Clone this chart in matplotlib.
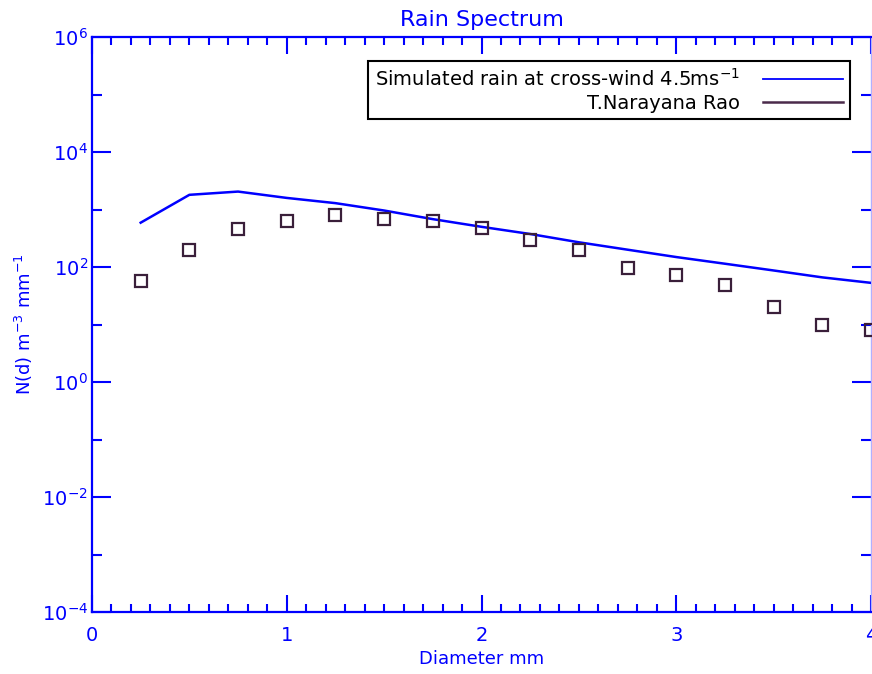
import matplotlib

matplotlib.use("Agg")
import matplotlib.pyplot as plt
from matplotlib.lines import Line2D
from matplotlib.ticker import NullFormatter


# Drop diameters (mm)
diameter = [0.25, 0.5, 0.75, 1.0, 1.25, 1.5, 1.75, 2.0, 2.25,
            2.5, 2.75, 3.0, 3.25, 3.5, 3.75, 4.0]

# Simulated spectrum, cross-wind 4.5 m/s
simulated = [590, 1800, 2050, 1590, 1290, 960, 680, 500, 375,
             269, 200, 149, 114, 87, 66, 53]

# Measured spectrum (T. Narayana Rao)
narayana = [58, 200, 465, 640, 790, 675, 640, 475, 295,
            200, 98, 74, 49, 20, 10, 7.9]

major_y = [1e-4, 1e-2, 1e0, 1e2, 1e4, 1e6]
minor_y = [1e-3, 1e-1, 1e1, 1e3, 1e5]

BLUE = "#0000ff"
PURPLE = "#3a1f3a"

plt.rcParams["font.family"] = ["DejaVu Sans"]
plt.rcParams["mathtext.fontset"] = "dejavusans"

W, H = 872, 674
fig = plt.figure(figsize=(W / 100, H / 100), dpi=100)
ax = fig.add_axes([92 / W, 1 - 612 / H, (871 - 92) / W, (612 - 37) / H])

ax.plot(diameter, simulated, color=BLUE, linewidth=1.8, zorder=3)
ax.plot(diameter, narayana, linestyle="none", marker="s", markersize=9,
        markerfacecolor="none", markeredgecolor=PURPLE, markeredgewidth=1.6,
        clip_on=False, zorder=4)

ax.set_yscale("log")
ax.set_xlim(0, 4)
ax.set_ylim(1e-4, 1e6)
ax.set_yticks(major_y)
ax.set_yticks(minor_y, minor=True)
ax.yaxis.set_minor_formatter(NullFormatter())
ax.set_xticks([0, 1, 2, 3, 4])
ax.set_xticks([i / 10 for i in range(41)], minor=True)

for side in ["left", "bottom", "top"]:
    ax.spines[side].set_color(BLUE)
    ax.spines[side].set_linewidth(1.6)
ax.spines["right"].set_color("#b0b0ff")
ax.spines["right"].set_linewidth(1.0)

ax.tick_params(which="both", direction="in", top=True, right=True,
               color=BLUE, labelcolor=BLUE, width=1.5)
ax.tick_params(axis="y", which="major", length=14, pad=3, labelsize=14)
ax.tick_params(axis="y", which="minor", length=7)
ax.tick_params(axis="x", which="major", length=12, pad=10, labelsize=14)
ax.tick_params(axis="x", which="minor", length=6)

ax.set_title("Rain Spectrum", color=BLUE, fontsize=16, pad=8)
ax.set_xlabel("Diameter mm", color=BLUE, fontsize=13, labelpad=4)
ax.set_ylabel("N(d) m$^{-3}$ mm$^{-1}$", color=BLUE, fontsize=13, labelpad=5)

handles = [
    Line2D([], [], color=BLUE, linewidth=1.3),
    Line2D([], [], color="#4a2a4a", linewidth=1.8),
]
labels = ["Simulated rain at cross-wind 4.5ms$^{-1}$", "T.Narayana Rao"]
leg = ax.legend(handles, labels, loc="upper right",
                bbox_to_anchor=(850 / W, 1 - 61 / H),
                bbox_transform=fig.transFigure, borderaxespad=0,
                markerfirst=False, fancybox=False, framealpha=1,
                edgecolor="black", fontsize=14, handlelength=4.1,
                labelspacing=0.2, borderpad=0.35, handletextpad=1.2)
leg.get_frame().set_linewidth(1.5)

fig.savefig("out.png", dpi=100)
